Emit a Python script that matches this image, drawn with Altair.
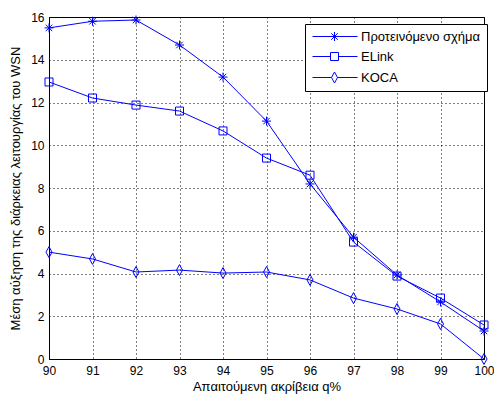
import altair as alt
import pandas as pd

q = [90, 91, 92, 93, 94, 95, 96, 97, 98, 99, 100]
proposed = [15.49, 15.80, 15.86, 14.69, 13.19, 11.13, 8.19, 5.70, 3.93, 2.67, 1.31]
elink = [12.96, 12.21, 11.88, 11.60, 10.67, 9.40, 8.60, 5.47, 3.88, 2.85, 1.59]
koca = [5.00, 4.68, 4.07, 4.16, 4.02, 4.07, 3.70, 2.85, 2.34, 1.64, 0.00]
series_names = ["Προτεινόμενο σχήμα", "ELink", "KOCA"]

rows = []
for name, vals in zip(series_names, [proposed, elink, koca]):
    for x, v in zip(q, vals):
        rows.append({"q": x, "value": v, "series": name})
df = pd.DataFrame(rows)

FONT = "Liberation Sans"
BLUE = "#0000ff"

star = "M-0.9,0L0.9,0M0,-0.9L0,0.9M-0.65,-0.65L0.65,0.65M-0.65,0.65L0.65,-0.65"
square = "M-0.8,-0.8L0.8,-0.8L0.8,0.8L-0.8,0.8Z"
diamond = "M0,-1.1L0.6,0L0,1.1L-0.6,0Z"

# legend symbols: line + marker (unit = 5 px with symbolSize 100)
lg_star = ("M-1,0L8,0M2.5,0L4.3,0M3.4,-0.9L3.4,0.9"
           "M2.75,-0.65L4.05,0.65M2.75,0.65L4.05,-0.65")
lg_square = "M-1,0L2.6,0M4.2,0L8,0M2.6,-0.8L4.2,-0.8L4.2,0.8L2.6,0.8Z"
lg_diamond = "M-1,0L2.8,0M4,0L8,0M3.4,-1.1L4,0L3.4,1.1L2.8,0Z"

x_enc = alt.X("q:Q", scale=alt.Scale(domain=[90, 100], nice=False),
              axis=alt.Axis(values=q, title="Απαιτούμενη ακρίβεια q%", format="d"))
y_enc = alt.Y("value:Q", scale=alt.Scale(domain=[0, 16], nice=False),
              axis=alt.Axis(values=list(range(0, 17, 2)),
                            title="Μέση αύξηση της διάρκειας λειτουργίας του WSN"))

lines = alt.Chart(df).mark_line(color=BLUE, strokeWidth=1).encode(
    x=x_enc, y=y_enc, detail="series:N")

points = alt.Chart(df).mark_point(color=BLUE, filled=False, strokeWidth=1, size=100, opacity=1).encode(
    x="q:Q", y="value:Q",
    shape=alt.Shape("series:N", scale=alt.Scale(domain=series_names, range=[star, square, diamond]),
                    legend=None))

legend_layer = alt.Chart(df).transform_calculate(lg="datum.series").mark_point(
    color=BLUE, filled=False, strokeWidth=1, opacity=0).encode(
    x="q:Q", y="value:Q",
    shape=alt.Shape("lg:N", scale=alt.Scale(domain=series_names, range=[lg_star, lg_square, lg_diamond]),
                    legend=alt.Legend(title=None, orient="none", legendX=256, legendY=7,
                                      symbolSize=100, symbolOpacity=1, symbolStrokeColor=BLUE,
                                      symbolStrokeWidth=1, symbolFillColor="transparent",
                                      labelFont=FONT, labelFontSize=13, labelColor="black",
                                      strokeColor="black", fillColor="white",
                                      padding=6, rowPadding=6, labelOffset=37)))

chart = alt.layer(lines, points, legend_layer).resolve_scale(shape="independent").properties(
    width=435, height=342,
    autosize=alt.AutoSizeParams(type="none"),
    padding={"left": 49, "top": 17, "right": 10, "bottom": 35},
).configure_view(stroke="black", strokeWidth=1).configure_axis(
    grid=True, gridColor="black", gridDash=[1, 3], gridOpacity=1, gridWidth=1,
    domainColor="black", tickColor="black", tickSize=0,
    labelFont=FONT, labelFontSize=12, labelColor="black",
    titleFont=FONT, titleFontSize=13, titleColor="black", titleFontWeight="normal",
).configure_axisX(titlePadding=4, labelPadding=6, labelFlush=False).configure_axisY(
    titlePadding=8, labelPadding=5, labelFlush=False)

chart.save("out.html", embed_options={"renderer": "svg", "actions": False})
